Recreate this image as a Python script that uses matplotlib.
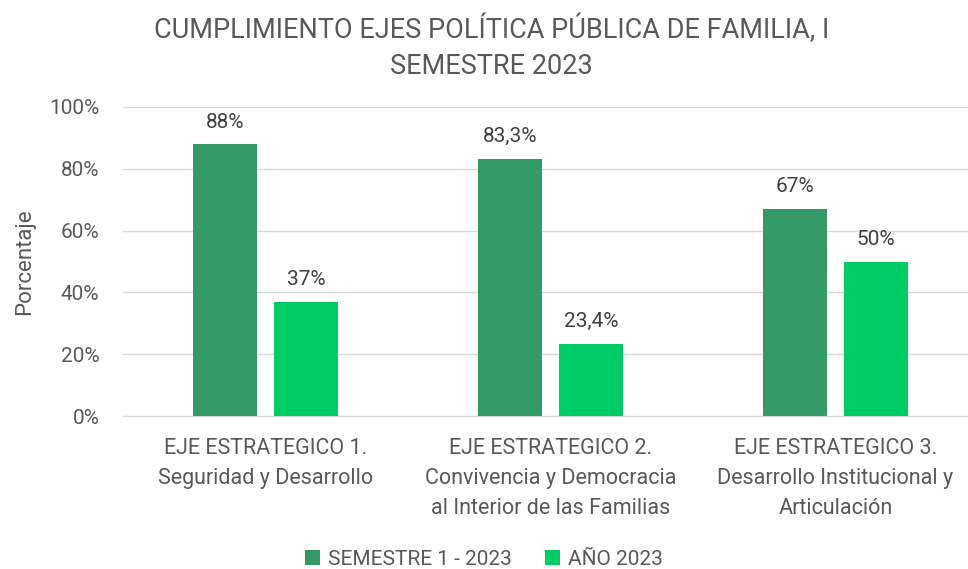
import matplotlib
matplotlib.use("Agg")
import matplotlib.pyplot as plt
import numpy as np
from matplotlib.ticker import FuncFormatter

categories = ["EJE ESTRATEGICO 1.\nSeguridad y Desarrollo",
              "EJE ESTRATEGICO 2.\nConvivencia y Democracia\nal Interior de las Familias",
              "EJE ESTRATEGICO 3.\nDesarrollo Institucional y\nArticulación"]
semestre = [88, 83.3, 67]
anio = [37, 23.4, 50]
semestre_labels = ["88%", "83,3%", "67%"]
anio_labels = ["37%", "23,4%", "50%"]
series_names = ["SEMESTRE 1 - 2023", "AÑO 2023"]
yticks = [0, 20, 40, 60, 80, 100]

plt.rcParams['font.family'] = ['Roboto', 'DejaVu Sans']
txt = '#595959'

fig = plt.figure(figsize=(9.68, 5.69), dpi=100)
ax = fig.add_axes([123 / 968, 1 - 416 / 569, 845 / 968, 309 / 569])

x = np.arange(len(categories))
w = 0.225
off = 0.143
b1 = ax.bar(x - off, semestre, w, color='#339966', label=series_names[0], zorder=3)
b2 = ax.bar(x + off, anio, w, color='#00CC66', label=series_names[1], zorder=3)

for rects, labs in ((b1, semestre_labels), (b2, anio_labels)):
    for r, l in zip(rects, labs):
        ax.annotate(l, (r.get_x() + r.get_width() / 2, r.get_height()),
                    xytext=(0, 9), textcoords='offset points', ha='center', va='bottom',
                    fontsize=15, color='#404040')

ax.set_xlim(-0.5, 2.465)
ax.set_ylim(0, 100)
ax.set_yticks(yticks)
ax.yaxis.set_major_formatter(FuncFormatter(lambda v, p: f"{int(v)}%"))
ax.set_xticks(x)
ax.set_xticklabels(categories, fontsize=15.5, color=txt, linespacing=1.55)
for lab in ax.get_yticklabels():
    lab.set_fontsize(15); lab.set_color(txt)
ax.tick_params(axis='y', length=0, pad=17)
ax.tick_params(axis='x', length=0, pad=16)
ax.grid(axis='y', color='#D9D9D9', linewidth=1, zorder=0)
for s in ['top', 'right', 'left']:
    ax.spines[s].set_visible(False)
ax.spines['bottom'].set_color('#D9D9D9')
ax.set_ylabel("Porcentaje", fontsize=16, color=txt, labelpad=10)

fig.suptitle("CUMPLIMIENTO EJES POLÍTICA PÚBLICA DE FAMILIA, I\nSEMESTRE 2023",
             x=0.508, y=0.975, fontsize=19.5, color=txt, linespacing=1.45)

fig.legend(loc='lower center', bbox_to_anchor=(0.5, -0.033), ncol=2, frameon=False,
           handlelength=0.7, handleheight=0.7, handletextpad=0.4,
           columnspacing=1.6, labelcolor=txt, prop={'size': 15})

fig.savefig("out.png", dpi=100)
